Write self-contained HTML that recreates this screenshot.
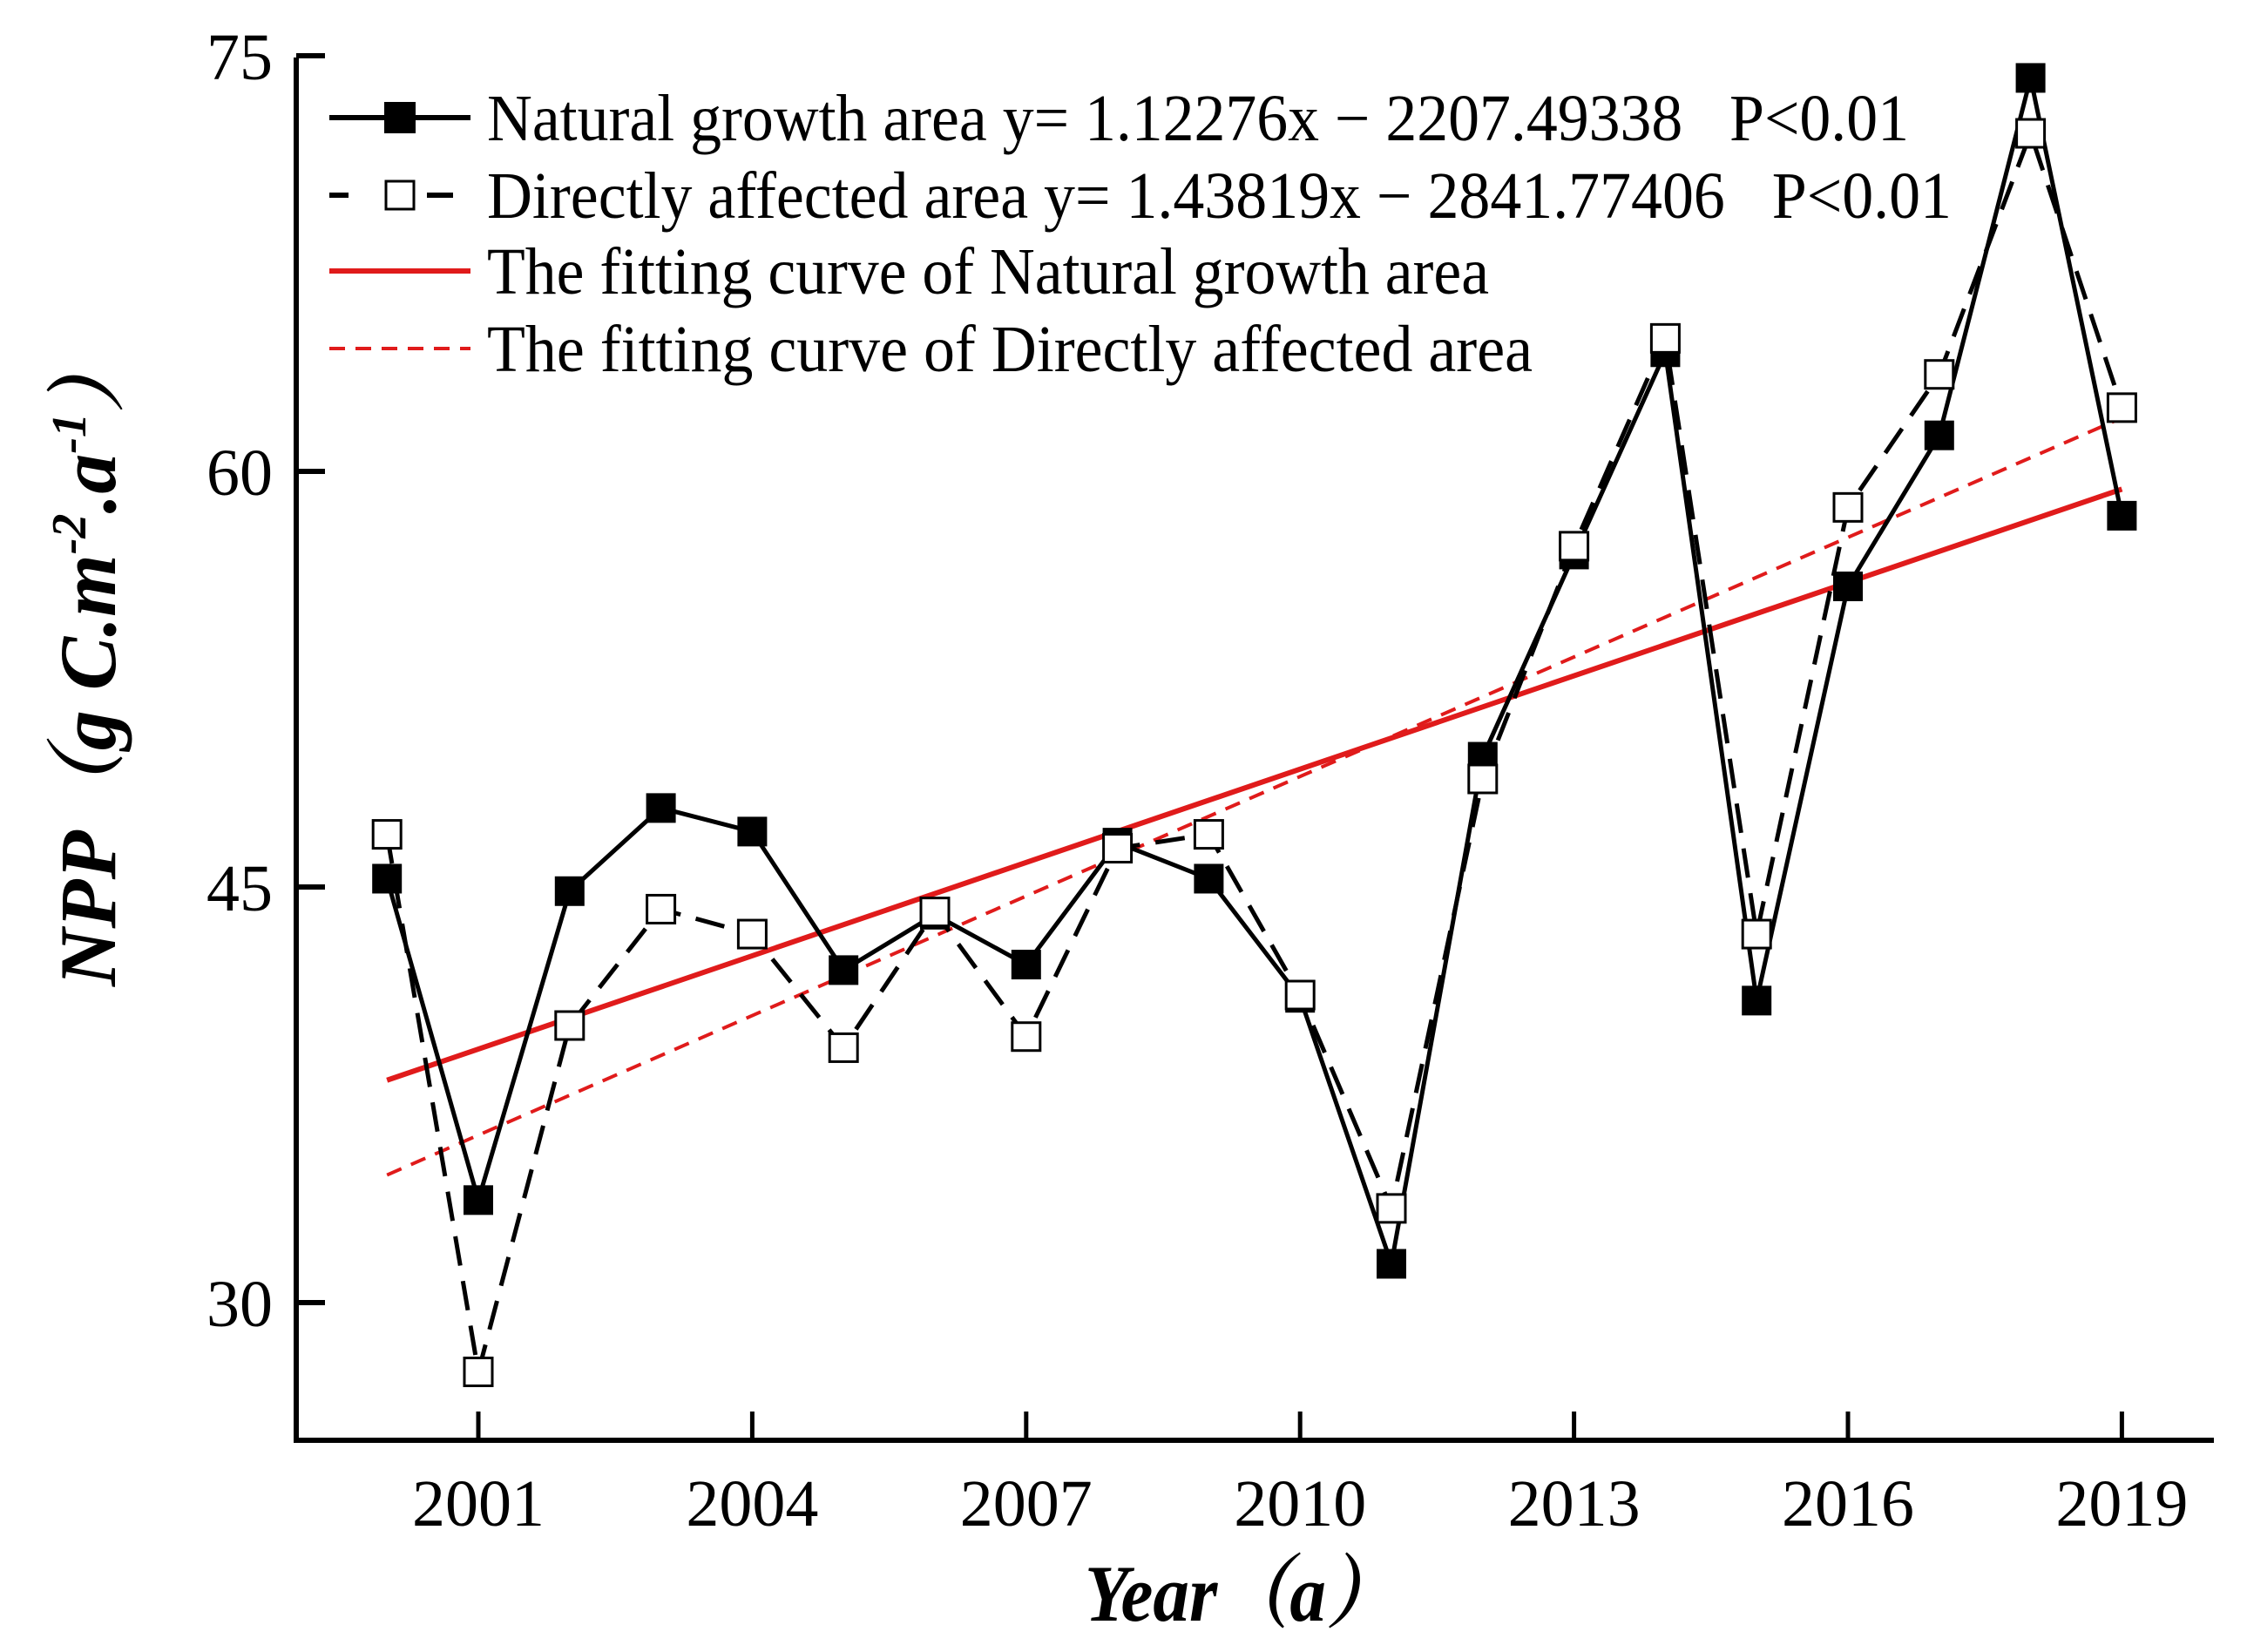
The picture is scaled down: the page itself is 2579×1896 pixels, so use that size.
<!DOCTYPE html>
<html><head><meta charset="utf-8"><style>
html,body{margin:0;padding:0;background:#fff;}
svg{display:block;font-family:"Liberation Serif","Noto Serif CJK SC",serif;}
</style></head><body>
<svg id="chart" width="2579" height="1896" viewBox="0 0 2579 1896" xmlns="http://www.w3.org/2000/svg">
<g id="plot"></g>
</svg>
<script>
const years = [2000,2001,2002,2003,2004,2005,2006,2007,2008,2009,2010,2011,2012,2013,2014,2015,2016,2017,2018,2019];
const naturalValues = [45.3,33.7,44.85,47.85,47.0,42.0,44.0,42.2,46.6,45.3,41.0,31.4,49.7,57.0,64.3,40.9,55.85,61.3,74.2,58.4];
const directValues = [46.9,27.5,40.0,44.2,43.3,39.2,44.1,39.6,46.4,46.9,41.1,33.4,48.9,57.3,64.8,43.3,58.7,63.5,72.2,62.3];
const naturalFit = [1.12276, -2207.49338];
const directFit = [1.43819, -2841.77406];
const yTicks = [30,45,60,75];
const xTicks = [2001,2004,2007,2010,2013,2016,2019];

const NS='http://www.w3.org/2000/svg';
const g=document.getElementById('plot');
function xs(v){return 549+(v-2001)*104.8;}
function ys(v){return 541-(v-60)*(477/15);}
function mk(tag,attrs,parent){const e=document.createElementNS(NS,tag);for(const k in attrs)e.setAttribute(k,attrs[k]);(parent||g).appendChild(e);return e;}

let ax=mk('path',{d:'M340 66 V1653 H2541',fill:'none',stroke:'#000','stroke-width':6});


yTicks.forEach(t=>{
  let l=mk('line',{x1:340,x2:373,y1:ys(t),y2:ys(t),stroke:'#000','stroke-width':6});
  
  
  let tx=mk('text',{x:313,y:ys(t)+27,'text-anchor':'end','font-size':76});
  tx.textContent=t;
  
  
});
xTicks.forEach(t=>{
  let l=mk('line',{x1:xs(t),x2:xs(t),y1:1653,y2:1620,stroke:'#000','stroke-width':5});
  
  
  let tx=mk('text',{x:xs(t),y:1751,'text-anchor':'middle','font-size':76});
  tx.textContent=t;
  
  
});

function fitLine(c,dash,w,name){
  const x0=years[0],x1=years[years.length-1];
  let l=mk('line',{x1:xs(x0),y1:ys(c[0]*x0+c[1]),x2:xs(x1),y2:ys(c[0]*x1+c[1]),stroke:'#e01b1b','stroke-width':w});
  if(dash)l.setAttribute('stroke-dasharray',dash);
  
  
}
fitLine(directFit,'18 12',4,'direct-fit-line');
fitLine(naturalFit,null,6,'natural-fit-line');

function series(vals,dash,name){
  let p=mk('polyline',{points:vals.map((v,i)=>xs(years[i])+','+ys(v)).join(' '),fill:'none',stroke:'#000','stroke-width':5});
  if(dash)p.setAttribute('stroke-dasharray',dash);
  
  
}
series(directValues,'34 18','direct-line');
series(naturalValues,null,'natural-line');
naturalValues.forEach((v,i)=>{
  let r=mk('rect',{x:xs(years[i])-17,y:ys(v)-17,width:34,height:34,fill:'#000'});
  
  
});
directValues.forEach((v,i)=>{
  let r=mk('rect',{x:xs(years[i])-16,y:ys(v)-16,width:32,height:32,fill:'#fff',stroke:'#000','stroke-width':3});
  
  
});
</script>
<svg style="position:absolute;left:0;top:0" width="2579" height="1896" xmlns="http://www.w3.org/2000/svg" font-family="Liberation Serif, serif">
<g>
 <g>
  <line x1="378" y1="135" x2="540" y2="135" stroke="#000" stroke-width="6"/>
  <rect x="441" y="117" width="36" height="36" fill="#000"/>
  <text x="559" y="161" font-size="76" textLength="1632" lengthAdjust="spacingAndGlyphs">Natural growth area y= 1.12276x − 2207.49338&#160;&#160;&#160;P&lt;0.01</text>
 </g>
 <g>
  <line x1="378" y1="224" x2="400" y2="224" stroke="#000" stroke-width="6"/>
  <line x1="490" y1="224" x2="520" y2="224" stroke="#000" stroke-width="6"/>
  <rect x="443" y="208" width="32" height="32" fill="#fff" stroke="#000" stroke-width="3"/>
  <text x="559" y="250" font-size="76" textLength="1681" lengthAdjust="spacingAndGlyphs">Directly affected area y= 1.43819x − 2841.77406&#160;&#160;&#160;P&lt;0.01</text>
 </g>
 <g>
  <line x1="378" y1="311" x2="540" y2="311" stroke="#e01b1b" stroke-width="6"/>
  <text x="559" y="337" font-size="76" textLength="1150" lengthAdjust="spacingAndGlyphs">The fitting curve of Natural growth area</text>
 </g>
 <g>
  <line x1="378" y1="400" x2="540" y2="400" stroke="#e01b1b" stroke-width="4" stroke-dasharray="18 12"/>
  <text x="559" y="426" font-size="76" textLength="1200" lengthAdjust="spacingAndGlyphs">The fitting curve of Directly affected area</text>
 </g>
</g>
<text x="1425" y="1860" text-anchor="middle" font-size="92" font-weight="bold" font-style="italic" font-family="Liberation Serif, Noto Serif CJK SC, serif" textLength="360" lengthAdjust="spacingAndGlyphs">Year（a）</text>
<text transform="translate(132,757) rotate(-90)" text-anchor="middle" font-size="92" font-weight="bold" font-style="italic" font-family="Liberation Serif, Noto Serif CJK SC, serif">NPP（g C.m<tspan font-size="56" dy="-34">-2</tspan><tspan dy="34">.a</tspan><tspan font-size="56" dy="-34">-1</tspan><tspan dy="34">）</tspan></text>
</svg>
</body></html>
